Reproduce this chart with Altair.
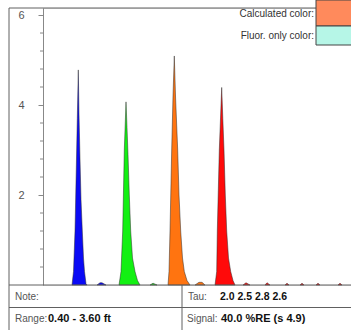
import altair as alt
import pandas as pd

# ---- data ----
blue_x = [72, 73.5, 75, 76.3, 77.3, 78.3, 79, 80, 81, 82.3, 83.5, 84.5, 86, 87]
blue_y = [0, 0.3, 1.2, 2.6, 3.7, 4.78, 3.8, 2.8, 1.9, 1.2, 0.6, 0.3, 0.03, 0]
blue_bump_x = [97, 100, 102, 106]
blue_bump_y = [0, 0.05, 0.05, 0]

green_x = [119, 121, 122.7, 124.3, 126, 127, 128, 129.3, 130.7, 132.5, 135, 137.5, 140]
green_y = [0, 0.3, 1.2, 3.0, 4.07, 3.5, 2.9, 2.0, 1.2, 0.6, 0.3, 0.1, 0]
green_bump_x = [150, 153, 157]
green_bump_y = [0, 0.04, 0]

orange_x = [168, 169, 170, 171.7, 173, 174.3, 175.5, 177.7, 179, 180.7, 182.5, 184.3, 187, 190]
orange_y = [0, 0.3, 1.2, 3.0, 4.2, 5.09, 4.2, 3.0, 2.0, 1.2, 0.6, 0.3, 0.1, 0]
orange_bump_x = [195, 199, 202, 205]
orange_bump_y = [0, 0.06, 0.06, 0]

red_x = [215, 216.7, 217.3, 219.3, 221.7, 222.8, 224, 225.3, 226.7, 228.5, 230.7, 233, 235]
red_y = [0, 0.3, 1.2, 3.0, 4.39, 3.7, 3.0, 2.0, 1.2, 0.6, 0.3, 0.1, 0]
red_bumps = [243, 246, 250, 265, 267, 270, 285, 287, 289, 300, 302, 304, 316, 318, 320, 338, 340, 342]
red_bumps_y = [0, 0.05, 0, 0, 0.05, 0, 0, 0.04, 0, 0, 0.04, 0, 0, 0.04, 0, 0, 0.04, 0]

series_names = ["blue", "green", "orange", "red"]
series_colors = ["#0a0af5", "#12f012", "#ff7410", "#ff0a0a"]

minor_ticks = [0.4, 0.8, 1.2, 1.6, 2.4, 2.8, 3.2, 3.6, 4.4, 4.8, 5.2, 5.6]
major_ticks = [2, 4, 6]

tau_values = ["2.0", "2.5", "2.8", "2.6"]
note_label = "Note:"
range_label = "Range:"
range_value = "0.40 - 3.60 ft"
tau_label = "Tau:"
signal_label = "Signal:"
signal_value = "40.0 %RE (s 4.9)"
legend_labels = ["Calculated color:", "Fluor. only color:"]
legend_colors = ["#ff8a5c", "#b6f6e7"]

# ---- build table ----
rows = []
def add(xs, ys, s, seg):
    for a, b in zip(xs, ys):
        rows.append({"x": a - 43, "y": b, "series": s, "seg": seg})

add(blue_x, blue_y, "blue", "b1")
add(blue_bump_x, blue_bump_y, "blue", "b2")
add(green_x, green_y, "green", "g1")
add(green_bump_x, green_bump_y, "green", "g2")
add(orange_x, orange_y, "orange", "o1")
add(orange_bump_x, orange_bump_y, "orange", "o2")
add(red_x, red_y, "red", "r1")
for i in range(0, len(red_bumps), 3):
    add(red_bumps[i:i + 3], red_bumps_y[i:i + 3], "red", "r%d" % (i + 2))
df = pd.DataFrame(rows)

W, H = 308, 277
FONT = "Liberation Sans"

xscale = alt.Scale(domain=[0, W], nice=False, zero=False)
yscale = alt.Scale(domain=[0, 6.156], nice=False, zero=True)

peaks = alt.Chart(df).mark_area(stroke="#2a2a2a", strokeWidth=0.5, interpolate="linear").encode(
    x=alt.X("x:Q", scale=xscale, axis=None),
    y=alt.Y("y:Q", scale=yscale, stack=None,
            axis=alt.Axis(values=major_ticks, title=None, grid=False, tickSize=5,
                          labelPadding=14, labelFont=FONT, labelFontSize=11,
                          labelColor="#555", tickColor="#888", domainColor="#888",
                          labelFlush=False)),
    color=alt.Color("series:N", scale=alt.Scale(domain=series_names, range=series_colors), legend=None),
    detail="seg:N",
)

minor = alt.Chart(pd.DataFrame({"v": minor_ticks})).mark_rule(color="#888", strokeWidth=1).encode(
    y=alt.Y("v:Q", scale=yscale), x=alt.value(-3), x2=alt.value(0)
)

one = pd.DataFrame({"a": [0]})

def rule(x1, y1, x2, y2, color="#606060"):
    return alt.Chart(one).mark_rule(color=color, strokeWidth=1).encode(
        x=alt.value(x1), y=alt.value(y1), x2=alt.value(x2), y2=alt.value(y2))

def text(t, x, y, bold=False, color="#555", size=10, align="left"):
    return alt.Chart(pd.DataFrame({"t": [t]})).mark_text(
        font=FONT, fontSize=size, fontWeight="bold" if bold else "normal",
        color=color, align=align, baseline="middle").encode(
        text="t:N", x=alt.value(x), y=alt.value(y))

frame = [
    rule(-34, 0, W, 0),
    rule(-34, 0, -34, 322),
    rule(-34, H, W, H),
    rule(-34, 299.5, W, 299.5),
    rule(139, H, 139, 322),
]

texts = [
    text(note_label, -28, 288.5),
    text(range_label, -28, 311),
    text(range_value, 5, 311, bold=True, color="#111", size=11),
    text(tau_label, 145, 288.5),
    text(signal_label, 144, 311),
    text(signal_value, 178, 311, bold=True, color="#111", size=11),
]
tau_x = [177, 194.5, 212, 229.5]
for v, xx in zip(tau_values, tau_x):
    texts.append(text(v, xx, 288.5, bold=True, color="#111", size=10.5))

legend = []
sw_y = [(-8, 18), (18, 37)]
for lab, col, (y1, y2) in zip(legend_labels, legend_colors, sw_y):
    legend.append(alt.Chart(one).mark_rect(fill=col, stroke="#444", strokeWidth=1).encode(
        x=alt.value(273), x2=alt.value(W + 2), y=alt.value(y1), y2=alt.value(y2)))
    legend.append(text(lab, 271, (y1 + y2) / 2 + 0.5, color="#333", align="right"))

chart = alt.layer(minor, peaks, *frame, *texts, *legend).properties(
    width=W, height=H,
    autosize=alt.AutoSizeParams(type="none"),
    padding={"left": 43, "top": 8, "right": 0, "bottom": 45},
).configure_view(stroke=None).configure(background="white")

chart.save("out.html", embed_options={"renderer": "svg", "actions": False})
